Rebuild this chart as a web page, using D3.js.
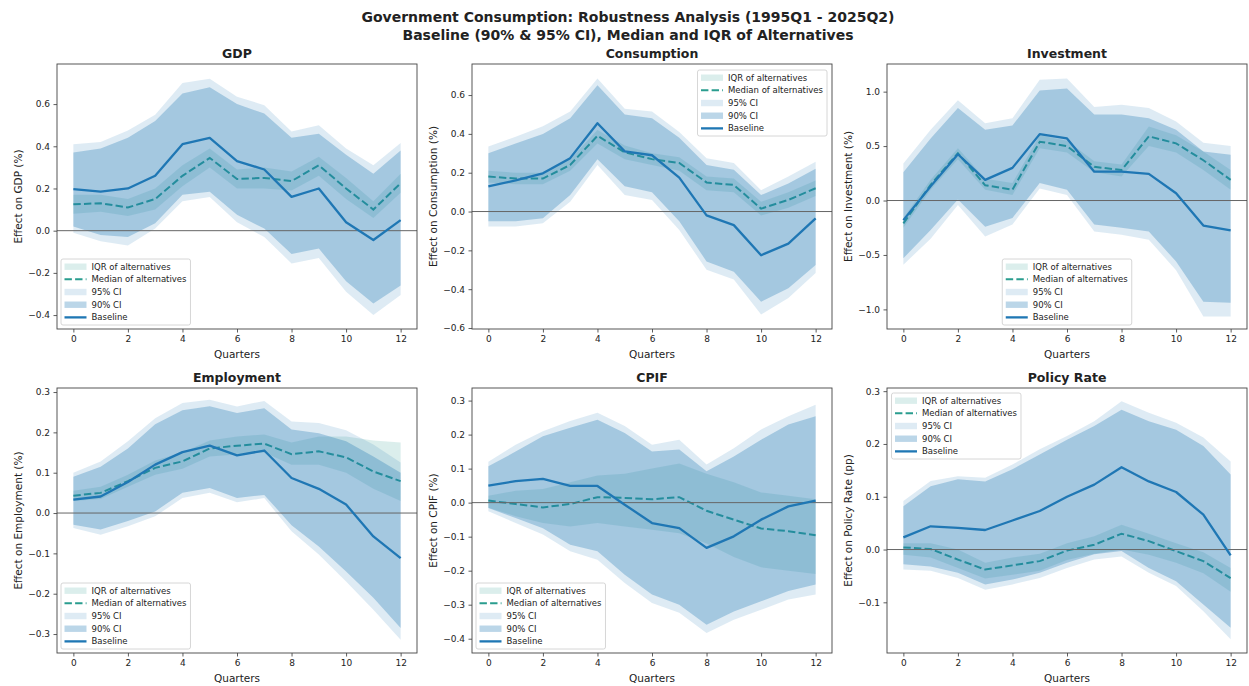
<!DOCTYPE html>
<html>
<head>
<meta charset="utf-8">
<title>Government Consumption: Robustness Analysis</title>
<script src="https://cdn.jsdelivr.net/npm/d3@7"></script>
<style>
  body { margin: 0; background: #fff; }
  text { font-family: "DejaVu Sans", sans-serif; fill: #222; }
</style>
</head>
<body>
<script>

// horizon (quarters)
var quarters = [0, 1, 2, 3, 4, 5, 6, 7, 8, 9, 10, 11, 12];
var xTicks = [0, 2, 4, 6, 8, 10, 12];

// GDP
var gdpBase  = [0.197, 0.185, 0.20, 0.26, 0.41, 0.44, 0.33, 0.29, 0.16, 0.20, 0.04, -0.044, 0.05];
var gdpMed   = [0.125, 0.13, 0.11, 0.15, 0.26, 0.345, 0.245, 0.25, 0.235, 0.31, 0.20, 0.10, 0.225];
var gdpLo90  = [0.02, -0.02, -0.03, 0.035, 0.17, 0.185, 0.075, 0.01, -0.11, -0.085, -0.24, -0.345, -0.26];
var gdpHi90  = [0.37, 0.39, 0.44, 0.52, 0.65, 0.68, 0.60, 0.555, 0.44, 0.46, 0.36, 0.27, 0.38];
var gdpLo95  = [-0.01, -0.05, -0.07, 0.01, 0.14, 0.16, 0.04, -0.03, -0.155, -0.13, -0.29, -0.40, -0.305];
var gdpHi95  = [0.41, 0.42, 0.475, 0.55, 0.70, 0.72, 0.635, 0.595, 0.47, 0.50, 0.39, 0.31, 0.415];
var gdpIqrLo = [0.08, 0.09, 0.07, 0.10, 0.21, 0.30, 0.20, 0.20, 0.19, 0.26, 0.15, 0.06, 0.18];
var gdpIqrHi = [0.17, 0.17, 0.15, 0.20, 0.31, 0.39, 0.29, 0.30, 0.28, 0.35, 0.25, 0.14, 0.27];

// Consumption
var conBase  = [0.13, 0.16, 0.197, 0.275, 0.455, 0.31, 0.29, 0.175, -0.02, -0.07, -0.225, -0.165, -0.035];
var conMed   = [0.18, 0.17, 0.17, 0.24, 0.39, 0.305, 0.27, 0.25, 0.15, 0.137, 0.015, 0.06, 0.12];
var conLo90  = [-0.05, -0.05, -0.035, 0.085, 0.27, 0.13, 0.10, -0.05, -0.257, -0.31, -0.465, -0.395, -0.275];
var conHi90  = [0.30, 0.35, 0.40, 0.48, 0.65, 0.50, 0.48, 0.38, 0.24, 0.215, 0.085, 0.145, 0.22];
var conLo95  = [-0.077, -0.077, -0.06, 0.05, 0.24, 0.085, 0.06, -0.095, -0.30, -0.35, -0.53, -0.445, -0.317];
var conHi95  = [0.335, 0.385, 0.44, 0.515, 0.685, 0.53, 0.515, 0.41, 0.275, 0.25, 0.11, 0.18, 0.257];
var conIqrLo = [0.15, 0.14, 0.14, 0.21, 0.35, 0.27, 0.24, 0.21, 0.11, 0.10, -0.02, 0.02, 0.08];
var conIqrHi = [0.21, 0.20, 0.20, 0.27, 0.42, 0.34, 0.30, 0.28, 0.18, 0.17, 0.05, 0.10, 0.16];

// Investment
var invBase  = [-0.18, 0.13, 0.425, 0.19, 0.30, 0.61, 0.57, 0.265, 0.265, 0.245, 0.067, -0.23, -0.275];
var invMed   = [-0.21, 0.145, 0.435, 0.14, 0.10, 0.54, 0.50, 0.31, 0.28, 0.59, 0.525, 0.37, 0.19];
var invLo90  = [-0.53, -0.27, 0.01, -0.24, -0.16, 0.16, 0.10, -0.22, -0.25, -0.285, -0.56, -0.93, -0.94];
var invHi90  = [0.26, 0.57, 0.85, 0.65, 0.69, 1.01, 1.03, 0.79, 0.79, 0.755, 0.65, 0.45, 0.42];
var invLo95  = [-0.59, -0.35, -0.04, -0.33, -0.22, 0.11, 0.05, -0.285, -0.315, -0.36, -0.64, -1.065, -1.065];
var invHi95  = [0.34, 0.65, 0.92, 0.71, 0.755, 1.11, 1.12, 0.86, 0.88, 0.85, 0.725, 0.53, 0.50];
var invIqrLo = [-0.25, 0.10, 0.38, 0.10, 0.05, 0.48, 0.44, 0.26, 0.22, 0.50, 0.44, 0.28, 0.10];
var invIqrHi = [-0.16, 0.19, 0.48, 0.20, 0.16, 0.60, 0.55, 0.36, 0.33, 0.68, 0.60, 0.45, 0.28];

// Employment
var empBase  = [0.033, 0.041, 0.077, 0.12, 0.151, 0.167, 0.143, 0.155, 0.087, 0.06, 0.021, -0.058, -0.112];
var empMed   = [0.043, 0.05, 0.079, 0.112, 0.128, 0.16, 0.167, 0.172, 0.146, 0.153, 0.138, 0.103, 0.079];
var empLo90  = [-0.029, -0.041, -0.02, 0.004, 0.05, 0.062, 0.037, 0.045, -0.03, -0.083, -0.145, -0.21, -0.285];
var empHi90  = [0.09, 0.115, 0.16, 0.22, 0.255, 0.265, 0.248, 0.26, 0.207, 0.198, 0.178, 0.14, 0.10];
var empLo95  = [-0.037, -0.054, -0.033, -0.008, 0.037, 0.05, 0.027, 0.037, -0.045, -0.103, -0.17, -0.24, -0.314];
var empHi95  = [0.10, 0.128, 0.178, 0.235, 0.273, 0.281, 0.264, 0.278, 0.227, 0.223, 0.205, 0.17, 0.125];
var empIqrLo = [0.03, 0.035, 0.065, 0.095, 0.11, 0.14, 0.145, 0.15, 0.12, 0.12, 0.10, 0.06, 0.03];
var empIqrHi = [0.055, 0.065, 0.095, 0.13, 0.15, 0.18, 0.19, 0.195, 0.175, 0.19, 0.19, 0.18, 0.175];

// CPIF
var cpiBase  = [0.05, 0.063, 0.07, 0.049, 0.049, -0.006, -0.06, -0.075, -0.133, -0.099, -0.05, -0.011, 0.006];
var cpiMed   = [0.006, -0.004, -0.014, -0.004, 0.016, 0.014, 0.01, 0.016, -0.024, -0.05, -0.076, -0.084, -0.096];
var cpiLo90  = [-0.016, -0.045, -0.075, -0.124, -0.143, -0.212, -0.27, -0.30, -0.359, -0.32, -0.29, -0.26, -0.241];
var cpiHi90  = [0.107, 0.15, 0.195, 0.22, 0.244, 0.205, 0.15, 0.156, 0.092, 0.136, 0.185, 0.23, 0.254];
var cpiLo95  = [-0.025, -0.06, -0.094, -0.143, -0.168, -0.236, -0.295, -0.324, -0.383, -0.344, -0.315, -0.285, -0.27];
var cpiHi95  = [0.12, 0.17, 0.21, 0.24, 0.264, 0.225, 0.17, 0.185, 0.112, 0.16, 0.215, 0.254, 0.288];
var cpiIqrLo = [-0.015, -0.04, -0.06, -0.07, -0.06, -0.07, -0.08, -0.09, -0.12, -0.16, -0.19, -0.20, -0.21];
var cpiIqrHi = [0.02, 0.035, 0.04, 0.06, 0.08, 0.085, 0.10, 0.115, 0.085, 0.06, 0.03, 0.02, 0.01];

// Policy Rate
var polBase  = [0.023, 0.044, 0.041, 0.037, 0.055, 0.073, 0.10, 0.123, 0.156, 0.129, 0.109, 0.066, -0.011];
var polMed   = [0.004, 0.001, -0.019, -0.038, -0.03, -0.022, -0.002, 0.009, 0.03, 0.016, -0.003, -0.022, -0.054];
var polLo90  = [-0.028, -0.032, -0.044, -0.066, -0.057, -0.044, -0.025, -0.009, -0.003, -0.035, -0.06, -0.104, -0.148];
var polHi90  = [0.082, 0.12, 0.133, 0.129, 0.152, 0.18, 0.208, 0.234, 0.265, 0.243, 0.227, 0.196, 0.142];
var polLo95  = [-0.038, -0.04, -0.054, -0.076, -0.066, -0.054, -0.035, -0.019, -0.013, -0.044, -0.069, -0.117, -0.17];
var polHi95  = [0.092, 0.13, 0.139, 0.136, 0.161, 0.19, 0.215, 0.243, 0.281, 0.259, 0.24, 0.212, 0.167];
var polIqrLo = [-0.01, -0.015, -0.035, -0.055, -0.048, -0.04, -0.02, -0.008, 0.0, -0.01, -0.025, -0.045, -0.08];
var polIqrHi = [0.012, 0.012, 0.0, -0.025, -0.015, -0.008, 0.012, 0.025, 0.047, 0.03, 0.012, -0.005, -0.035];

var legendLabels = ["IQR of alternatives", "Median of alternatives", "95% CI", "90% CI", "Baseline"];

// one entry per subplot
var panels = [
  {title: "GDP", ylabel: "Effect on GDP (%)", ylim: [-0.466, 0.79], yticks: [-0.4, -0.2, 0, 0.2, 0.4, 0.6], loc: "lower left",
   base: gdpBase, med: gdpMed, lo90: gdpLo90, hi90: gdpHi90, lo95: gdpLo95, hi95: gdpHi95, iqrLo: gdpIqrLo, iqrHi: gdpIqrHi},
  {title: "Consumption", ylabel: "Effect on Consumption (%)", ylim: [-0.605, 0.76], yticks: [-0.6, -0.4, -0.2, 0, 0.2, 0.4, 0.6], loc: "upper right",
   base: conBase, med: conMed, lo90: conLo90, hi90: conHi90, lo95: conLo95, hi95: conHi95, iqrLo: conIqrLo, iqrHi: conIqrHi},
  {title: "Investment", ylabel: "Effect on Investment (%)", ylim: [-1.18, 1.254], yticks: [-1.0, -0.5, 0, 0.5, 1.0], loc: "lower center",
   base: invBase, med: invMed, lo90: invLo90, hi90: invHi90, lo95: invLo95, hi95: invHi95, iqrLo: invIqrLo, iqrHi: invIqrHi},
  {title: "Employment", ylabel: "Effect on Employment (%)", ylim: [-0.347, 0.31], yticks: [-0.3, -0.2, -0.1, 0, 0.1, 0.2, 0.3], loc: "lower left",
   base: empBase, med: empMed, lo90: empLo90, hi90: empHi90, lo95: empLo95, hi95: empHi95, iqrLo: empIqrLo, iqrHi: empIqrHi},
  {title: "CPIF", ylabel: "Effect on CPIF (%)", ylim: [-0.442, 0.337], yticks: [-0.4, -0.3, -0.2, -0.1, 0, 0.1, 0.2, 0.3], loc: "lower left",
   base: cpiBase, med: cpiMed, lo90: cpiLo90, hi90: cpiHi90, lo95: cpiLo95, hi95: cpiHi95, iqrLo: cpiIqrLo, iqrHi: cpiIqrHi},
  {title: "Policy Rate", ylabel: "Effect on Policy Rate (pp)", ylim: [-0.196, 0.306], yticks: [-0.1, 0, 0.1, 0.2, 0.3], loc: "upper left",
   base: polBase, med: polMed, lo90: polLo90, hi90: polHi90, lo95: polLo95, hi95: polHi95, iqrLo: polIqrLo, iqrHi: polIqrHi}
];

var blue = "#1f77b4", teal = "#2a9d8f";

var svg = d3.select("body").append("svg")
    .attr("width", 1249)
    .attr("height", 686);

// figure title
svg.append("text")
    .attr("x", 628).attr("y", 22)
    .attr("text-anchor", "middle")
    .style("font-size", "14px").style("font-weight", "bold")
    .text("Government Consumption: Robustness Analysis (1995Q1 - 2025Q2)");
svg.append("text")
    .attr("x", 628).attr("y", 39.5)
    .attr("text-anchor", "middle")
    .style("font-size", "14px").style("font-weight", "bold")
    .text("Baseline (90% & 95% CI), Median and IQR of Alternatives");

var colLeft = [57, 472, 887],
    rowTop = [64, 388],
    pw = 360, ph = 265;

panels.forEach(function(p, i) {
  var left = colLeft[i % 3], top = rowTop[Math.floor(i / 3)];

  var x = d3.scaleLinear().domain([-0.6, 12.6]).range([0, pw]);
  var y = d3.scaleLinear().domain(p.ylim).range([ph, 0]);

  var g = svg.append("g").attr("transform", "translate(" + left + "," + top + ")");

  g.append("clipPath").attr("id", "clip" + i)
    .append("rect").attr("width", pw).attr("height", ph);

  var plot = g.append("g").attr("clip-path", "url(#clip" + i + ")");

  function band(lo, hi) {
    return d3.area()
      .x(function(d) { return x(d); })
      .y0(function(d, j) { return y(lo[j]); })
      .y1(function(d, j) { return y(hi[j]); })(quarters);
  }
  function curve(v) {
    return d3.line()
      .x(function(d) { return x(d); })
      .y(function(d, j) { return y(v[j]); })(quarters);
  }

  // IQR of alternatives + median
  plot.append("path").attr("d", band(p.iqrLo, p.iqrHi))
    .attr("fill", teal).attr("fill-opacity", 0.17);
  plot.append("path").attr("d", curve(p.med))
    .attr("fill", "none").attr("stroke", teal).attr("stroke-width", 2)
    .attr("stroke-dasharray", "7.4,3.2");

  // baseline bands
  plot.append("path").attr("d", band(p.lo95, p.hi95))
    .attr("fill", blue).attr("fill-opacity", 0.15);
  plot.append("path").attr("d", band(p.lo90, p.hi90))
    .attr("fill", blue).attr("fill-opacity", 0.3);

  // zero line
  plot.append("line")
    .attr("x1", 0).attr("x2", pw)
    .attr("y1", y(0)).attr("y2", y(0))
    .attr("stroke", "#666").attr("stroke-width", 1);

  plot.append("path").attr("d", curve(p.base))
    .attr("fill", "none").attr("stroke", blue).attr("stroke-width", 2.3)
    .attr("stroke-linejoin", "round");

  // axes
  var xa = g.append("g").attr("transform", "translate(0," + ph + ")")
    .call(d3.axisBottom(x).tickValues(xTicks).tickFormat(d3.format("d")).tickSize(3.5).tickPadding(3.5));
  var ya = g.append("g")
    .call(d3.axisLeft(y).tickValues(p.yticks).tickFormat(d3.format(".1f")).tickSize(3.5).tickPadding(3.5));
  [xa, ya].forEach(function(a) {
    a.select(".domain").remove();
    a.selectAll("line").attr("stroke", "#333").attr("stroke-width", 0.8);
    a.selectAll("text").style("font-size", "9px").style("font-family", "DejaVu Sans").attr("fill", "#222");
  });

  // frame
  g.append("rect").attr("width", pw).attr("height", ph)
    .attr("fill", "none").attr("stroke", "#444").attr("stroke-width", 0.9);

  // labels
  g.append("text")
    .attr("x", pw / 2).attr("y", -6.5)
    .attr("text-anchor", "middle")
    .style("font-size", "12.5px").style("font-weight", "bold")
    .text(p.title);
  g.append("text")
    .attr("x", pw / 2).attr("y", ph + 29)
    .attr("text-anchor", "middle")
    .style("font-size", "10.5px")
    .text("Quarters");
  g.append("text")
    .attr("transform", "rotate(-90)")
    .attr("x", -ph / 2).attr("y", -35)
    .attr("text-anchor", "middle")
    .style("font-size", "10.5px")
    .text(p.ylabel);

  // legend
  var fs = 8.5, handle = 22, rowStep = 12.67;
  var lg = g.append("g");
  var box = lg.append("rect").attr("rx", 2).attr("ry", 2)
    .attr("fill", "#fff").attr("fill-opacity", 0.8)
    .attr("stroke", "#ccc").attr("stroke-width", 0.8);
  var maxW = 0;
  legendLabels.forEach(function(lab, k) {
    var cy = 7.7 + k * rowStep;
    if (k === 0 || k === 2 || k === 3) {
      var op = k === 0 ? 0.17 : (k === 2 ? 0.15 : 0.3);
      lg.append("rect").attr("x", 3.5).attr("y", cy - 3.2).attr("width", handle).attr("height", 6.4)
        .attr("fill", k === 0 ? teal : blue).attr("fill-opacity", op);
    } else {
      lg.append("line").attr("x1", 3.5).attr("x2", 3.5 + handle).attr("y1", cy).attr("y2", cy)
        .attr("stroke", k === 1 ? teal : blue)
        .attr("stroke-width", k === 1 ? 2 : 2.3)
        .attr("stroke-dasharray", k === 1 ? "7.4,3.2" : null);
    }
    var t = lg.append("text").attr("x", 3.5 + handle + 5).attr("y", cy + 3)
      .style("font-size", fs + "px").text(lab);
    maxW = Math.max(maxW, t.node().getComputedTextLength());
  });
  var lw = 3.5 + handle + 5 + maxW + 4, lh = 66;
  box.attr("width", lw).attr("height", lh);
  var lx, ly;
  if (p.loc === "lower left") { lx = 4; ly = ph - 4 - lh; }
  else if (p.loc === "upper right") { lx = pw - 5 - lw; ly = 6; }
  else if (p.loc === "lower center") { lx = (pw - lw) / 2; ly = ph - 4 - lh; }
  else { lx = 4.5; ly = 5; }
  lg.attr("transform", "translate(" + lx + "," + ly + ")");
});

</script>
</body>
</html>
